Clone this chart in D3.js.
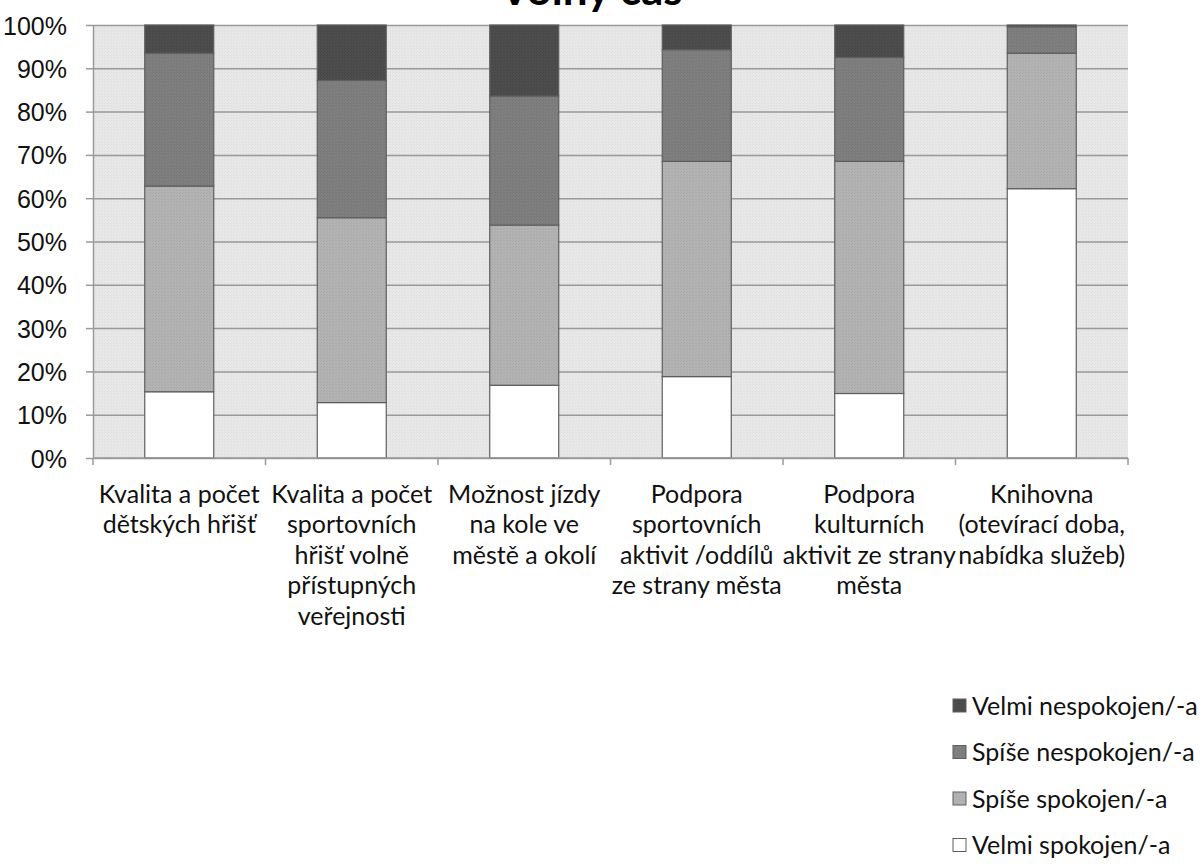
<!DOCTYPE html>
<html lang="cs">
<head>
<meta charset="utf-8">
<script src="https://cdn.jsdelivr.net/npm/d3@7"></script>
<style>
    html, body { margin: 0; padding: 0; background: #fff; }
    svg { display: block; font-family: Lato, "Open Sans", sans-serif; }
    .axis text { font-size: 25px; fill: #111; }
    .axis path, .axis line { stroke: #9a9a9a; stroke-width: 1.5; }
    .grid line { stroke: #999; stroke-width: 1.5; }
    .grid path { display: none; }
</style>
</head>
<body>
<svg id="chart" width="1202" height="864"></svg>
<script>
// Volný čas: spokojenost občanů, 100% skládané sloupce
const title = "Volný čas";

const categories = [
    "Kvalita a počet\ndětských hřišť",
    "Kvalita a počet\nsportovních\nhřišť volně\npřístupných\nveřejnosti",
    "Možnost jízdy\nna kole ve\nměstě a okolí",
    "Podpora\nsportovních\naktivit /oddílů\nze strany města",
    "Podpora\nkulturních\naktivit ze strany\nměsta",
    "Knihovna\n(otevírací doba,\nnabídka služeb)"
];

// series, bottom to top (shares in %)
const seriesNames = ["Velmi spokojen/-a", "Spíše spokojen/-a", "Spíše nespokojen/-a", "Velmi nespokojen/-a"];
const velmiSpokojen    = [15.3, 12.8, 16.8, 18.8, 14.9, 62.2];
const spiseSpokojen    = [47.5, 42.7, 37.0, 49.7, 53.6, 31.3];
const spiseNespokojen  = [30.7, 31.7, 29.8, 25.8, 24.0, 6.1];
const velmiNespokojen  = [6.5, 12.8, 16.4, 5.7, 7.5, 0.4];

const yTicks = [0, 0.1, 0.2, 0.3, 0.4, 0.5, 0.6, 0.7, 0.8, 0.9, 1];

const seriesValues = [velmiSpokojen, spiseSpokojen, spiseNespokojen, velmiNespokojen];
const fills = ["#ffffff", "url(#tex-light)", "url(#tex-mid)", "url(#tex-dark)"];

const svg = d3.select("#chart");
const plot = { left: 93, right: 1128, top: 25, bottom: 458 };

// subtle Excel-like texture fills
const defs = svg.append("defs");
function texture(id, base, dot) {
    const p = defs.append("pattern").attr("id", id).attr("width", 3).attr("height", 3).attr("patternUnits", "userSpaceOnUse");
    p.append("rect").attr("width", 3).attr("height", 3).attr("fill", base);
    p.append("rect").attr("x", 0).attr("y", 0).attr("width", 1).attr("height", 1).attr("fill", dot);
    p.append("rect").attr("x", 2).attr("y", 1).attr("width", 1).attr("height", 1).attr("fill", dot);
}
texture("tex-bg", "#e8e8e8", "#dedede");
texture("tex-light", "#b3b3b3", "#a8a8a8");
texture("tex-mid", "#7f7f7f", "#767676");
texture("tex-dark", "#4d4d4d", "#454545");

const rows = categories.map((c, i) => {
    const r = { category: c };
    seriesNames.forEach((s, k) => r[s] = seriesValues[k][i] / 100);
    return r;
});
const stacked = d3.stack().keys(seriesNames)(rows);

const x = d3.scaleBand().domain(categories).range([plot.left, plot.right]).paddingInner(0.6).paddingOuter(0.3);
const y = d3.scaleLinear().domain([0, 1]).range([plot.bottom, plot.top]);

svg.append("rect")
    .attr("x", plot.left).attr("y", plot.top)
    .attr("width", plot.right - plot.left).attr("height", plot.bottom - plot.top)
    .attr("fill", "url(#tex-bg)");

svg.append("g")
    .attr("class", "grid")
    .attr("transform", `translate(${plot.left},0)`)
    .call(d3.axisLeft(y).tickValues(yTicks).tickSize(-(plot.right - plot.left)).tickFormat(""));

svg.append("g")
    .selectAll("g")
    .data(stacked)
    .join("g")
    .attr("fill", (d, k) => fills[k])
    .selectAll("rect")
    .data(d => d)
    .join("rect")
    .attr("x", d => x(d.data.category))
    .attr("y", d => y(d[1]))
    .attr("width", x.bandwidth())
    .attr("height", d => y(d[0]) - y(d[1]))
    .attr("stroke", "#5e5e5e")
    .attr("stroke-width", 1.2);

// y axis
svg.append("g")
    .attr("class", "axis")
    .attr("transform", `translate(${plot.left},0)`)
    .call(d3.axisLeft(y).tickValues(yTicks).tickFormat(d3.format(".0%")).tickSize(7).tickPadding(19).tickSizeOuter(0))
    .selectAll("text").attr("dy", "0.36em");

// x axis: ticks between categories
const xAxis = svg.append("g").attr("class", "axis");
xAxis.append("line")
    .attr("x1", plot.left).attr("x2", plot.right)
    .attr("y1", plot.bottom).attr("y2", plot.bottom);
xAxis.selectAll("line.tick")
    .data(d3.range(categories.length + 1))
    .join("line")
    .attr("class", "tick")
    .attr("x1", i => plot.left + i * x.step()).attr("x2", i => plot.left + i * x.step())
    .attr("y1", plot.bottom).attr("y2", plot.bottom + 7);

xAxis.selectAll("text.cat")
    .data(categories)
    .join("text")
    .attr("class", "cat")
    .attr("text-anchor", "middle")
    .attr("x", d => x(d) + x.bandwidth() / 2)
    .attr("y", 494)
    .selectAll("tspan")
    .data(d => d.split("\n"))
    .join("tspan")
    .attr("x", function () { return this.parentNode.getAttribute("x"); })
    .attr("dy", (d, i) => i === 0 ? "0.35em" : 30.5)
    .text(d => d);

// title (clipped at the top like the original)
svg.append("text")
    .attr("x", 591)
    .attr("y", 5)
    .attr("text-anchor", "middle")
    .attr("font-size", 44)
    .attr("font-weight", "bold")
    .attr("fill", "#000")
    .text(title);

// legend, top entry = top of stack
const legendOrder = seriesNames.map((s, k) => ({ name: s, fill: fills[k] })).reverse();
const legend = svg.append("g").attr("class", "axis")
    .selectAll("g")
    .data(legendOrder)
    .join("g")
    .attr("transform", (d, i) => `translate(953,${706 + i * 46.5})`);
legend.append("rect")
    .attr("x", 0).attr("y", -7)
    .attr("width", 13).attr("height", 13)
    .attr("fill", d => d.fill)
    .attr("stroke", "#5e5e5e")
    .attr("stroke-width", 1);
legend.append("text")
    .attr("x", 19)
    .attr("dy", "0.35em")
    .text(d => d.name);
</script>
</body>
</html>
